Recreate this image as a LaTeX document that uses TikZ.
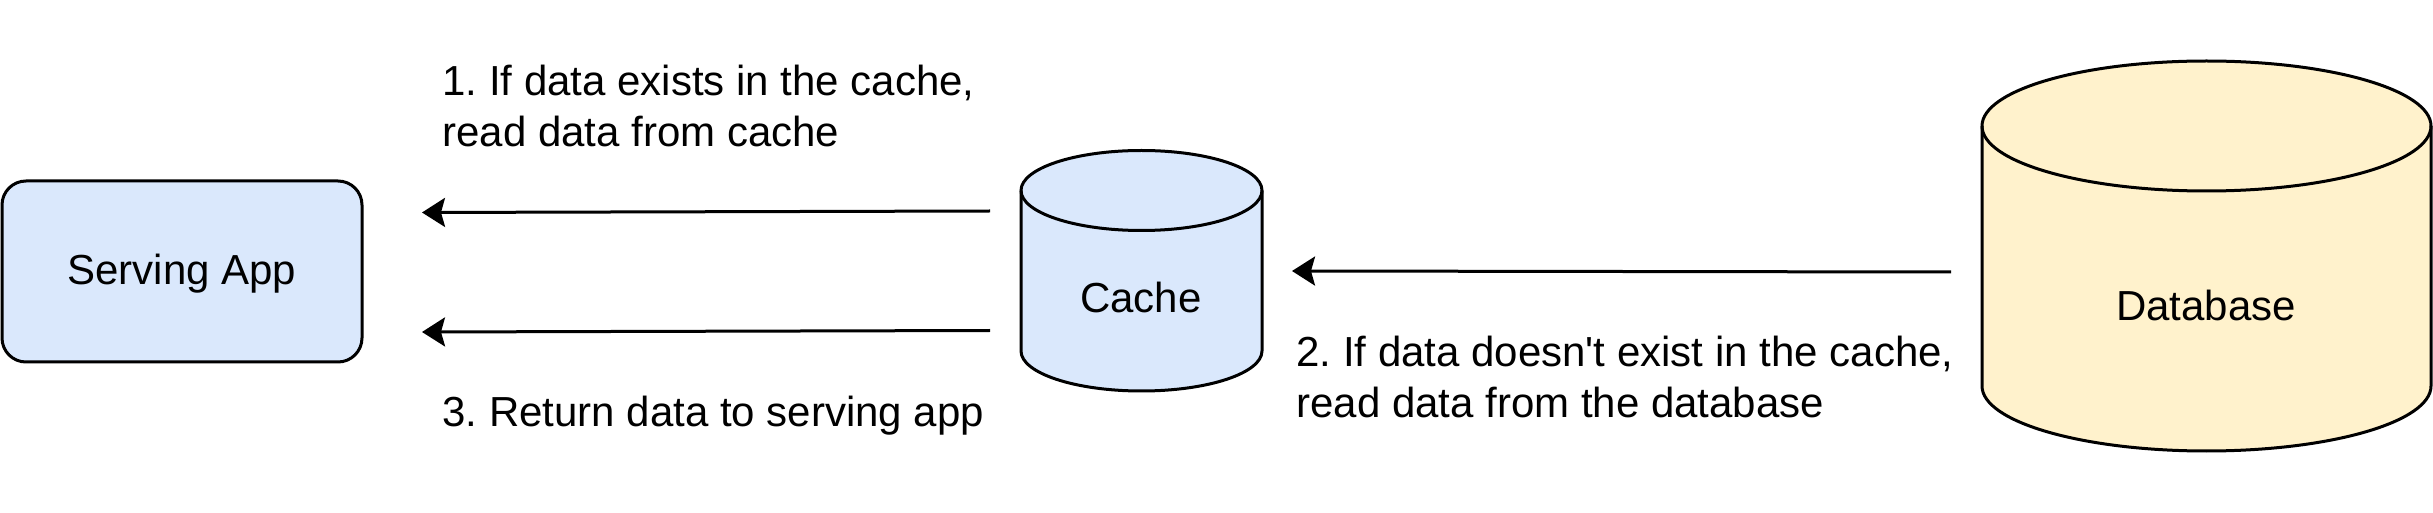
\documentclass[tikz,border=0pt]{standalone}
\usepackage{fontspec}
\setmainfont{Liberation Sans}
\usetikzlibrary{arrows.meta}
\definecolor{blueFill}{HTML}{DAE8FC}
\definecolor{yellowFill}{HTML}{FFF2CC}
\frenchspacing
\tikzset{
  shapeline/.style={draw=black, line width=1.5pt},
  lbl/.style={inner sep=0pt, font=\fontsize{21}{25.5}\selectfont},
  note/.style={lbl, align=left, anchor=base west},
  flow/.style={draw=black, line width=1.5pt, -{Stealth[length=11.5pt,width=14.5pt,inset=2pt]}},
}
\begin{document}
\begin{tikzpicture}[x=0.5pt,y=-0.5pt]
\useasboundingbox (0,0) rectangle (2433,513);

% Serving App
\draw[shapeline, fill=blueFill, rounded corners=12pt] (2,181) rectangle (362,362);
\node[lbl, anchor=base] (app) at (182,285) {Serving App};

% Cache cylinder
\draw[shapeline, fill=blueFill]
  (1021,190.5) -- (1021,351)
  arc[start angle=180, end angle=0, x radius=120.5, y radius=40]
  -- (1262,190.5)
  arc[start angle=0, end angle=-180, x radius=120.5, y radius=40] -- cycle;
\draw[shapeline] (1021,190.5) arc[start angle=180, end angle=0, x radius=120.5, y radius=40];
\node[lbl, anchor=base] (cache) at (1141,312.5) {Cache};

% Database cylinder
\draw[shapeline, fill=yellowFill]
  (1982,126) -- (1982,386)
  arc[start angle=180, end angle=0, x radius=224.5, y radius=65]
  -- (2431,126)
  arc[start angle=0, end angle=-180, x radius=224.5, y radius=65] -- cycle;
\draw[shapeline] (1982,126) arc[start angle=180, end angle=0, x radius=224.5, y radius=65];
\node[lbl, anchor=base] (db) at (2206,320.5) {Database};

% connector end points
\coordinate (a1s) at (990,211);
\coordinate (a1e) at (422,212.5);
\coordinate (a2s) at (990,330.5);
\coordinate (a2e) at (422,332);
\coordinate (a3s) at (1951,272);
\coordinate (a3e) at (1292,271);

\draw[flow] (a1s) -- (a1e);
\draw[flow] (a2s) -- (a2e);
\draw[flow] (a3s) -- (a3e);

% notes (anchor is on the baseline of the last line)
\node[note] (t1) at (442,147) {1. If data exists in the cache,\\read data from cache};
\node[note] (t3) at (442,427) {3. Return data to serving app};
\node[note] (t2) at (1296,418) {2. If data doesn\textquotesingle t exist in the cache,\\read data from the database};
\end{tikzpicture}
\end{document}
